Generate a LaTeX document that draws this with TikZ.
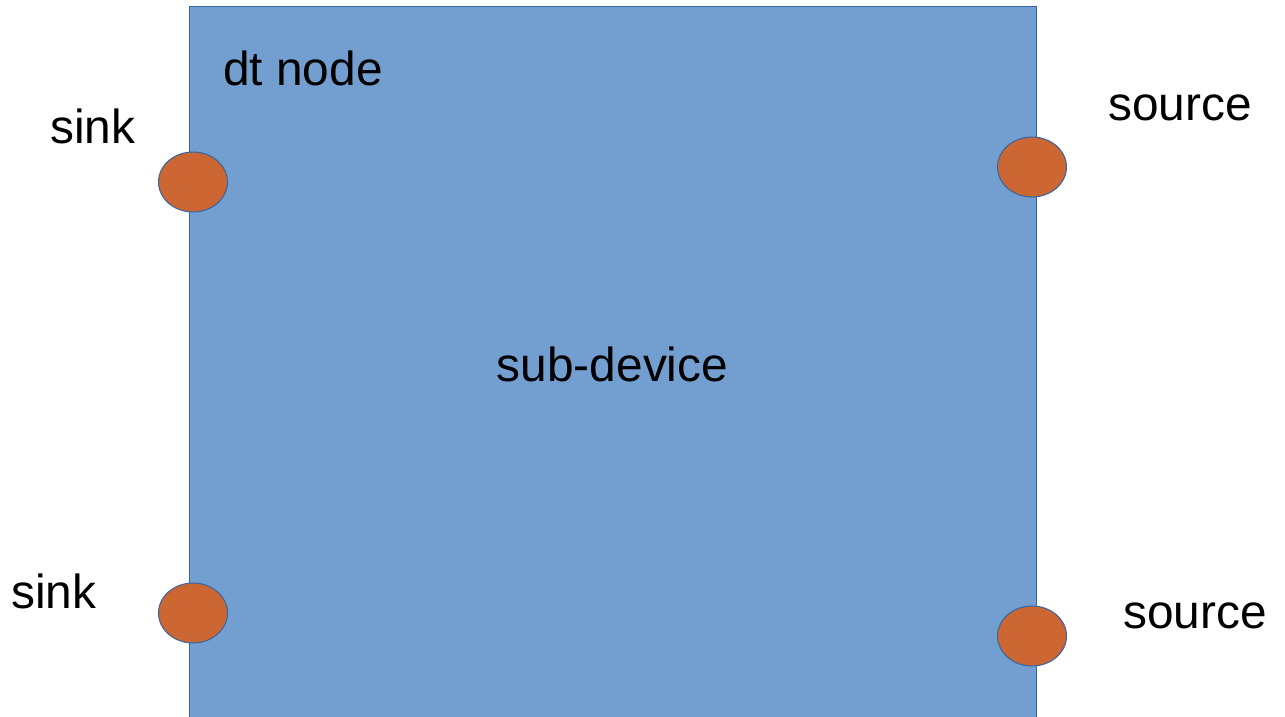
\documentclass[tikz,border=0pt]{standalone}
\usepackage{fontspec}
\setmainfont{Liberation Sans}
\usepackage{tikz}
\usetikzlibrary{shapes.geometric}
\definecolor{devblue}{HTML}{729FCF}
\definecolor{edgeblue}{HTML}{3465A4}
\definecolor{padorange}{HTML}{CC6633}
\tikzstyle{devbox} = [draw=edgeblue, fill=devblue, line width=1pt,
    rectangle, inner sep=0pt, minimum width=847pt, minimum height=714pt]
\tikzstyle{pad} = [draw=edgeblue, fill=padorange, line width=1pt,
    ellipse, inner sep=0pt, minimum width=69pt, minimum height=60pt]
\tikzstyle{lbl} = [anchor=base west, inner sep=0pt,
    font=\fontsize{47.8}{57}\selectfont]

\begin{document}
\begin{tikzpicture}[x=1pt,y=-1pt]
                \useasboundingbox (0,0) rectangle (1285,717);
                \node [devbox, font=\fontsize{47.8}{57}\selectfont] (subdev) at (612.5,364) {sub-device};
                \node [pad] (sinkA) at (193,182) {};
                \node [pad] (sinkB) at (193,613) {};
                \node [pad] (srcA) at (1032,167) {};
                \node [pad] (srcB) at (1032,636) {};
                \node [lbl] (dtname) at (223,85) {dt node};
                \node [lbl] (sinkAlbl) at (50,143) {sink};
                \node [lbl] (sinkBlbl) at (11,608) {sink};
                \node [lbl] (srcAlbl) at (1108,120) {source};
                \node [lbl] (srcBlbl) at (1123,628) {source};
            \end{tikzpicture}
\end{document}
